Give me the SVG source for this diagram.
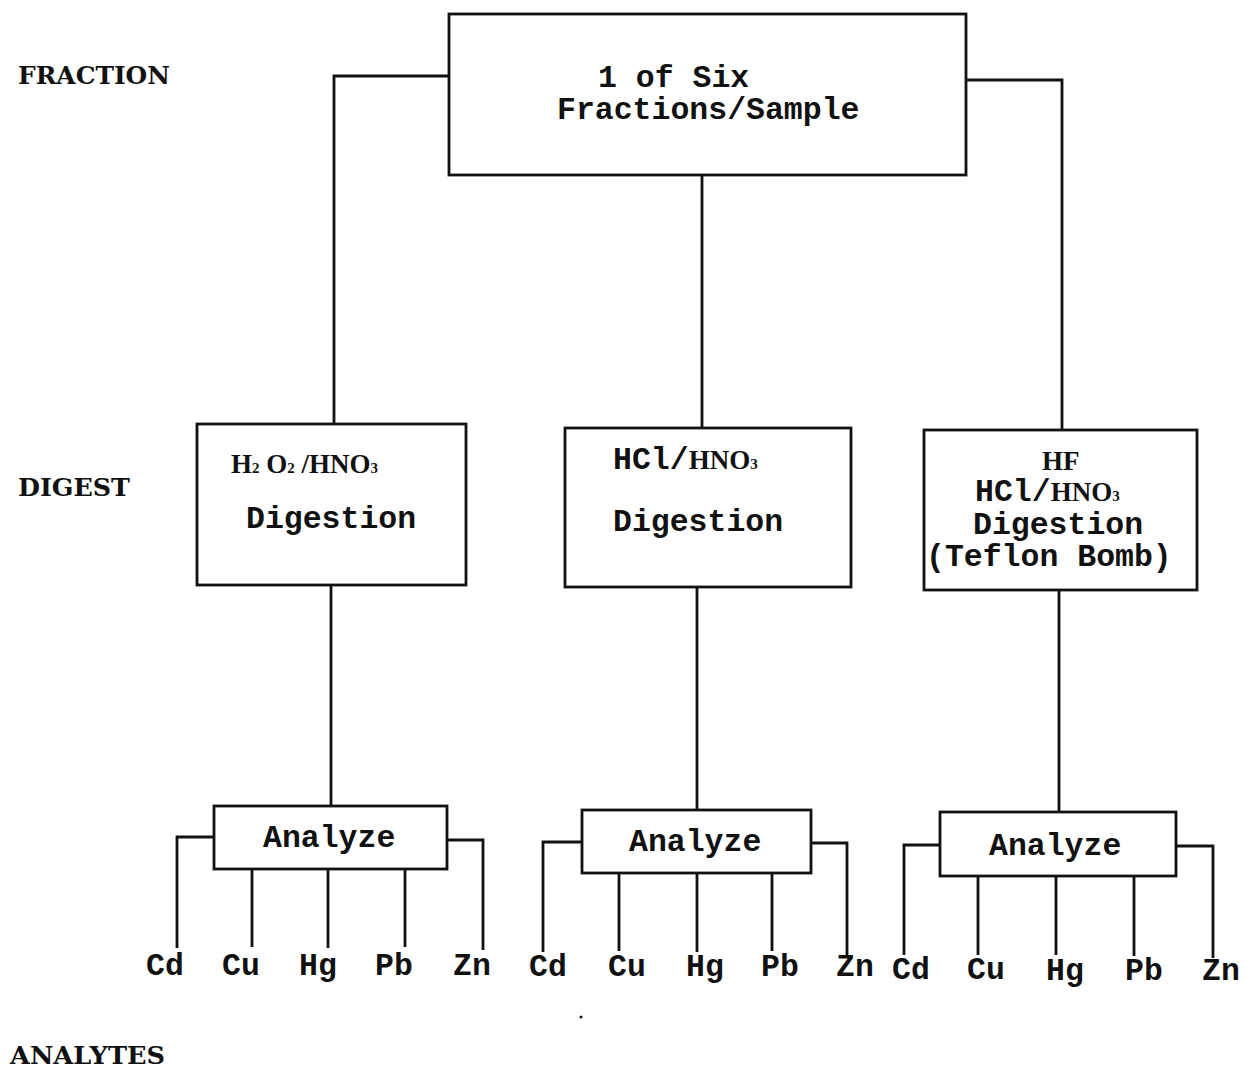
<svg xmlns="http://www.w3.org/2000/svg" width="1246" height="1070" viewBox="0 0 1246 1070">
<style>
.box{fill:#fff;stroke:#111;stroke-width:2.8}
.ln{fill:none;stroke:#111;stroke-width:2.8}
.mono{font-family:"Liberation Mono","Courier New",monospace;font-weight:bold;font-size:31.5px;fill:#111}
.ser{font-family:"Liberation Serif","Times New Roman",serif;font-weight:bold;font-size:27px;fill:#111}
.sub{font-size:15px}
.lab{font-family:"DejaVu Serif","Liberation Serif",serif;font-weight:bold;font-size:24px;fill:#111}
</style>
<rect width="1246" height="1070" fill="#fff"/>
<g id="connectors">
<polyline class="ln" points="449,76 334,76 334,425"/>
<polyline class="ln" points="966,80 1062,80 1062,430"/>
<line class="ln" x1="702" y1="175" x2="702" y2="428"/>
<line class="ln" x1="331" y1="585" x2="331" y2="806"/>
<line class="ln" x1="697" y1="587" x2="697" y2="810"/>
<line class="ln" x1="1059" y1="590" x2="1059" y2="812"/>
<polyline class="ln" points="214,837 177,837 177,948"/>
<line class="ln" x1="252" y1="869" x2="252" y2="947"/>
<line class="ln" x1="328" y1="869" x2="328" y2="948"/>
<line class="ln" x1="405" y1="869" x2="405" y2="947"/>
<polyline class="ln" points="447,840 483,840 483,950"/>
<polyline class="ln" points="582,842 543,842 543,952"/>
<line class="ln" x1="619" y1="873" x2="619" y2="951"/>
<line class="ln" x1="697" y1="873" x2="697" y2="952"/>
<line class="ln" x1="772" y1="873" x2="772" y2="951"/>
<polyline class="ln" points="811,843 847,843 847,955"/>
<polyline class="ln" points="940,845 904,845 904,955"/>
<line class="ln" x1="978" y1="876" x2="978" y2="955"/>
<line class="ln" x1="1056" y1="876" x2="1056" y2="955"/>
<line class="ln" x1="1134" y1="876" x2="1134" y2="956"/>
<polyline class="ln" points="1176,846 1213,846 1213,958"/>
</g>
<g id="label-fraction"><text class="lab" x="18" y="84" textLength="152" lengthAdjust="spacingAndGlyphs">FRACTION</text></g>
<g id="label-digest"><text class="lab" x="18" y="496" textLength="112" lengthAdjust="spacingAndGlyphs">DIGEST</text></g>
<g id="label-analytes"><text class="lab" x="10" y="1064" textLength="155" lengthAdjust="spacingAndGlyphs">ANALYTES</text></g>
<g id="fraction">
<rect class="box" x="449" y="14" width="517" height="161"/>
<text class="mono" x="598" y="87">1 of Six</text>
<text class="mono" x="557" y="119">Fractions/Sample</text>
</g>
<g id="digest1">
<rect class="box" x="197" y="424" width="269" height="161"/>
<text class="ser" x="231" y="473">H<tspan class="sub">2</tspan> O<tspan class="sub">2</tspan> /HNO<tspan class="sub">3</tspan></text>
<text class="mono" x="246" y="528">Digestion</text>
</g>
<g id="digest2">
<rect class="box" x="565" y="428" width="286" height="159"/>
<text x="613" y="469"><tspan class="mono">HCl/</tspan><tspan class="ser">HNO</tspan><tspan class="ser sub">3</tspan></text>
<text class="mono" x="613" y="531">Digestion</text>
</g>
<g id="digest3">
<rect class="box" x="924" y="430" width="273" height="160"/>
<text class="ser" x="1042" y="470">HF</text>
<text x="975" y="501"><tspan class="mono">HCl/</tspan><tspan class="ser">HNO</tspan><tspan class="ser sub">3</tspan></text>
<text class="mono" x="973" y="534">Digestion</text>
<text class="mono" x="926" y="566">(Teflon Bomb)</text>
</g>
<g id="analyze1">
<rect class="box" x="214" y="806" width="233" height="63"/>
<text class="mono" x="263" y="847">Analyze</text>
</g>
<g id="analyze2">
<rect class="box" x="582" y="810" width="229" height="63"/>
<text class="mono" x="629" y="851">Analyze</text>
</g>
<g id="analyze3">
<rect class="box" x="940" y="812" width="236" height="64"/>
<text class="mono" x="989" y="855">Analyze</text>
</g>
<g id="analytes1" class="mono">
<text x="146" y="975">Cd</text><text x="222" y="975">Cu</text><text x="299" y="975">Hg</text><text x="375" y="975">Pb</text><text x="453" y="975">Zn</text>
</g>
<g id="analytes2" class="mono">
<text x="529" y="976">Cd</text><text x="608" y="976">Cu</text><text x="686" y="976">Hg</text><text x="761" y="976">Pb</text><text x="836" y="976">Zn</text>
</g>
<g id="analytes3" class="mono">
<text x="892" y="979">Cd</text><text x="967" y="979">Cu</text><text x="1046" y="980">Hg</text><text x="1125" y="980">Pb</text><text x="1202" y="980">Zn</text>
</g>
<circle cx="581" cy="1017" r="1.5" fill="#111"/>
</svg>
